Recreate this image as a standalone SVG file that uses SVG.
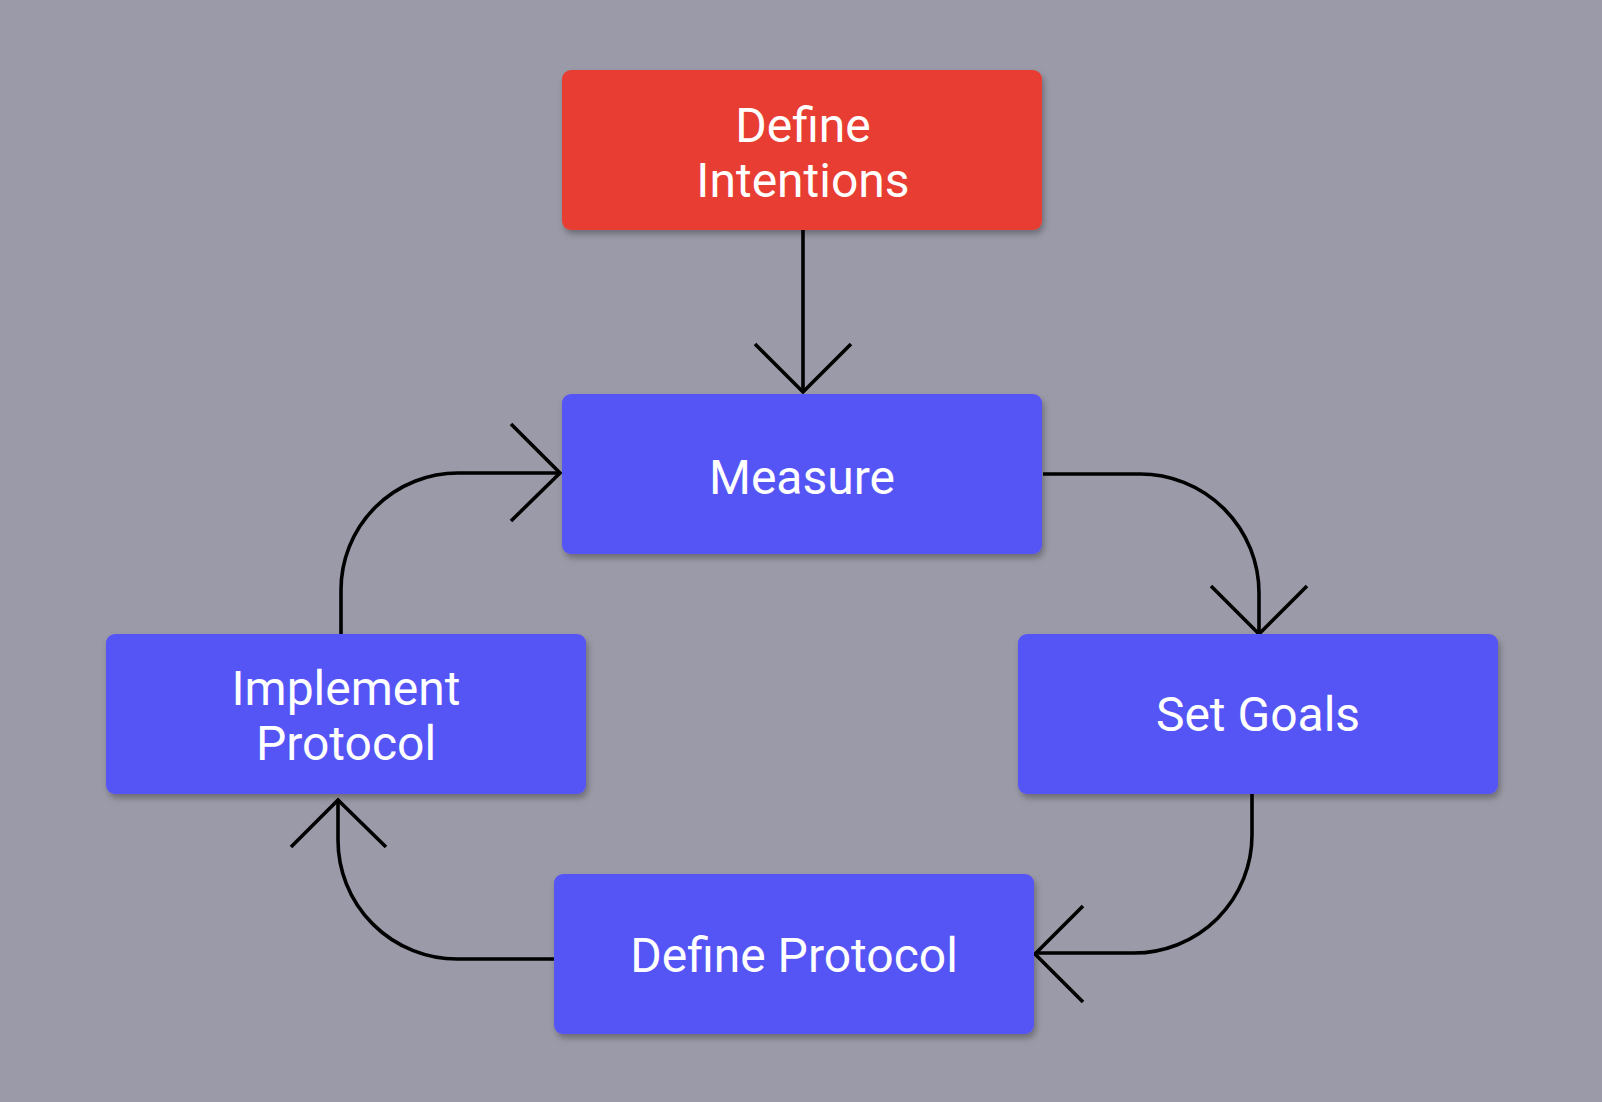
<svg xmlns="http://www.w3.org/2000/svg" width="1602" height="1102" viewBox="0 0 1602 1102">
<defs>
<filter id="sh" x="-10%" y="-10%" width="120%" height="130%">
<feDropShadow dx="2" dy="4" stdDeviation="3" flood-color="#000" flood-opacity="0.3"/>
</filter>
<style>
.box{filter:url(#sh);}
.red{fill:#e83e33;}
.blue{fill:#5454f6;}
.lbl{font-family:Roboto,"Liberation Sans",sans-serif;font-size:48px;fill:#ffffff;text-anchor:middle;}
.con{fill:none;stroke:#000;stroke-width:3.6;}
</style>
</defs>
<rect width="1602" height="1102" fill="#9b9aa8"/>
<g id="connectors">
<path class="con" d="M803 230 V392"/>
<path class="con" d="M755 344 L803 392 L851 344"/>
<path class="con" d="M1043 474 H1140 A119 119 0 0 1 1259 593 V634"/>
<path class="con" d="M1211 586 L1259 634 L1307 586"/>
<path class="con" d="M1252 794 V835 A118 118 0 0 1 1134 953 H1035"/>
<path class="con" d="M1083 906 L1035 954 L1083 1002"/>
<path class="con" d="M554 959 H457 A119 119 0 0 1 338 840 V799"/>
<path class="con" d="M291 847 L338 800 L386 847"/>
<path class="con" d="M341 634 V590 A117 117 0 0 1 458 473 H560"/>
<path class="con" d="M511 424 L560 473 L511 521"/>
</g>
<g id="define-intentions">
<rect class="box red" x="562" y="70" width="480" height="160" rx="9"/>
<text class="lbl" x="803" y="142">Define</text>
<text class="lbl" x="803" y="197">Intentions</text>
</g>
<g id="measure">
<rect class="box blue" x="562" y="394" width="480" height="160" rx="9"/>
<text class="lbl" x="802" y="494">Measure</text>
</g>
<g id="implement-protocol">
<rect class="box blue" x="106" y="634" width="480" height="160" rx="9"/>
<text class="lbl" x="346" y="705">Implement</text>
<text class="lbl" x="346" y="760">Protocol</text>
</g>
<g id="set-goals">
<rect class="box blue" x="1018" y="634" width="480" height="160" rx="9"/>
<text class="lbl" x="1258" y="731">Set Goals</text>
</g>
<g id="define-protocol">
<rect class="box blue" x="554" y="874" width="480" height="160" rx="9"/>
<text class="lbl" x="794" y="972">Define Protocol</text>
</g>
</svg>
